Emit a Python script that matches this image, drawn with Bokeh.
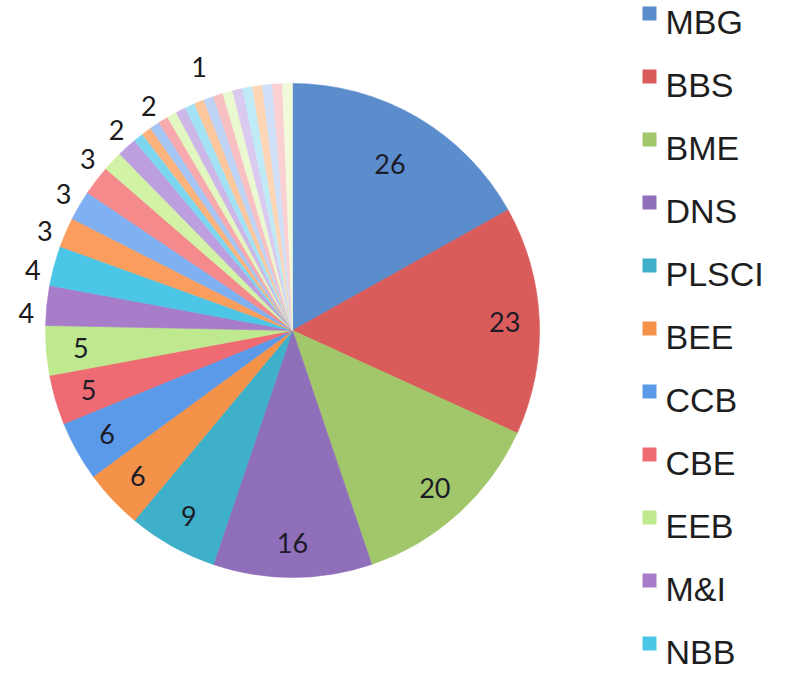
import numpy as np
from bokeh.plotting import figure
from bokeh.models import ColumnDataSource, Range1d
from bokeh.core.properties import value
from bokeh.embed import file_html
from bokeh.resources import INLINE

# ---------------- data ----------------
legend_names = ["MBG", "BBS", "BME", "DNS", "PLSCI", "BEE", "CCB", "CBE", "EEB", "M&I", "NBB"]
named_values = [26, 23, 20, 16, 9, 6, 6, 5, 5, 4, 4]
other_values = [3, 3, 3, 2, 2] + [1] * 17
values = named_values + other_values
shown_one_label = 25          # the only "1" slice whose label is drawn

# ---------------- styles ----------------
levels = [
    ["#5b8ccc", "#d95c5a", "#a2c76a", "#8f6fba", "#3fb0c9", "#f4924a"],
    ["#5a9ae8", "#ef6b74", "#bfe98f", "#a77cc9", "#4cc6e6", "#fb9d5c"],
    ["#7fb0f2", "#f58a8c", "#d2f3a6", "#bd9fe0", "#7dd6f0", "#fdb47c"],
    ["#a5c6f4", "#f7a9ad", "#e2f7bf", "#cdb6e8", "#a3e2f4", "#fdc79d"],
    ["#bdd4f6", "#f9c0c3", "#ebf9d0", "#dbcaf0", "#bfeaf6", "#fed6b6"],
    ["#cfe0f8", "#fad0d3", "#f1fbdc", "#e5d9f4", "#d0f0f8", "#fee2c8"],
]
colors = [levels[i // 6][i % 6] for i in range(len(values))]

W, H = 776, 671
cx, cy, R = 292, 341, 247

vals = np.array(values, dtype=float)
T = vals.sum()
cum_end = np.cumsum(vals)
cum_start = cum_end - vals
start = np.pi / 2 - 2 * np.pi * cum_start / T
end = np.pi / 2 - 2 * np.pi * cum_end / T

p = figure(width=W, height=H, x_range=Range1d(0, W), y_range=Range1d(0, H),
           output_backend="svg", toolbar_location=None, min_border=0,
           x_axis_type=None, y_axis_type=None)
p.grid.visible = False
p.outline_line_color = None
p.background_fill_color = "white"

src = ColumnDataSource(dict(start=start, end=end, color=colors))
p.wedge(x=cx, y=cy, radius=R, start_angle="start", end_angle="end",
        direction="clock", fill_color="color", line_color="color",
        line_width=0.6, source=src)

# ---------------- data labels ----------------
mid = 2 * np.pi * (cum_start + vals / 2) / T   # clockwise from top
lx, ly, lt = [], [], []
for i, v in enumerate(values):
    if v >= 5:
        rr = R * (0.78 if v >= 25 else 0.86)
        lx.append(cx + rr * np.sin(mid[i]))
        ly.append(cy + rr * np.cos(mid[i]))
        lt.append(str(v))
p.text(x=lx, y=ly, text=lt, text_align="center", text_baseline="middle",
       text_font=value("Lato"), text_font_size="27px", text_color="#1c1c28")

ox, oy, ot = [], [], []
Ro = R * 1.08
dmin = 40.0
prev = None
for i, v in enumerate(values):
    if v >= 5:
        continue
    if v == 1 and i != shown_one_label:
        continue
    a = mid[i] - np.radians(2.0)
    x = cx + Ro * np.sin(a)
    y = cy + Ro * np.cos(a)
    if prev is not None and v > 1:
        while np.hypot(x - prev[0], y - prev[1]) < dmin:
            a += np.radians(0.5)
            x = cx + Ro * np.sin(a)
            y = cy + Ro * np.cos(a)
    if v == 1:
        x = cx + R * 1.13 * np.sin(a)
        y = cy + R * 1.13 * np.cos(a)
    prev = (x, y)
    ox.append(x)
    oy.append(y)
    ot.append(str(v))
p.text(x=ox, y=oy, text=ot, text_align="center", text_baseline="middle",
       text_font=value("Lato"), text_font_size="27px", text_color="#1a1a1a")

# ---------------- legend ----------------
n = len(legend_names)
fs = 34
step = 63.0
base0 = 41.0
idx = np.arange(n)
baseline = base0 + idx * step               # screen px
sq_y = (H + 8) - (baseline - 20)
tx_y = (H + 8) - (baseline - 0.35 * fs)
p.scatter(x=[657 - 8] * n, y=sq_y, marker="square", size=14,
          fill_color=colors[:n], line_color=None)
p.text(x=[673 - 8] * n, y=tx_y, text=legend_names, text_align="left",
       text_baseline="middle", text_font=value("Liberation Sans"),
       text_font_size=f"{fs}px", text_color="#1e1e1e")

open("out.html", "w").write(file_html(p, INLINE))
